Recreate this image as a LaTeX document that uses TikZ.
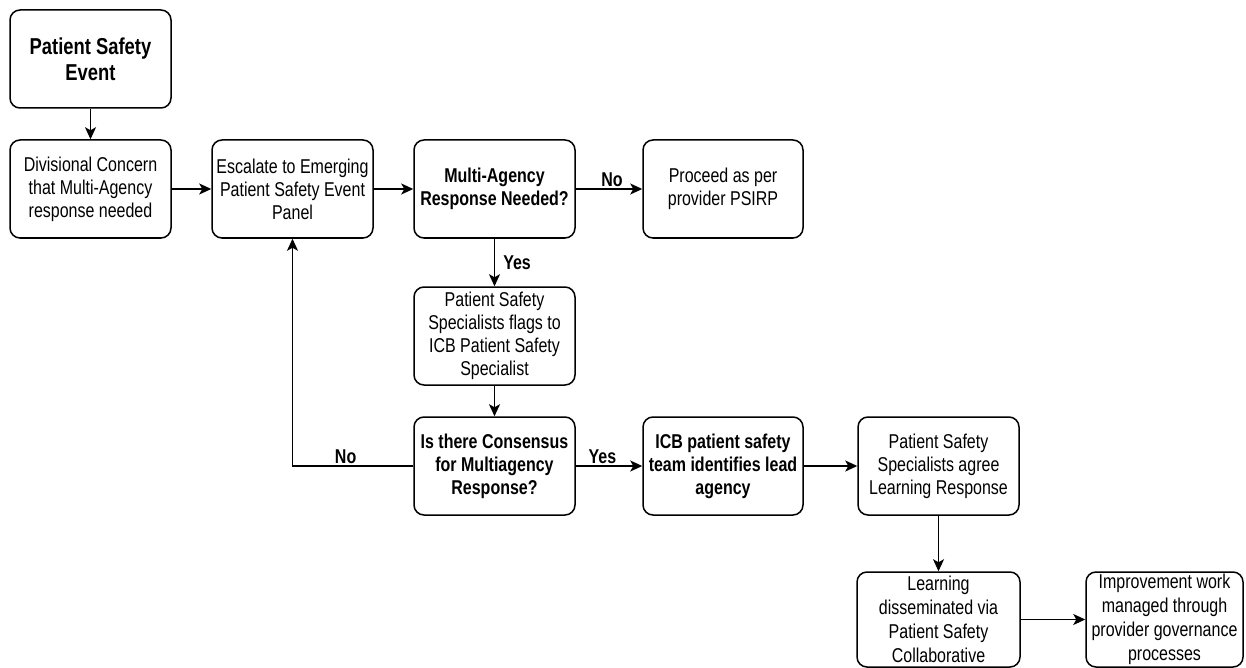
\documentclass[tikz,border=0pt]{standalone}
\usepackage{fontspec}
\setmainfont{Liberation Sans}[FakeStretch=0.8]
\usetikzlibrary{arrows.meta}
\tikzset{
  box/.style={draw=black, line width=1.5pt, rounded corners=10pt, align=center,
    minimum width=161pt, minimum height=98pt, inner sep=2pt,
    font=\fontsize{20}{23}\selectfont},
  boldbox/.style={box, font=\fontsize{20}{23}\selectfont\bfseries},
  titlebox/.style={box, font=\fontsize{23}{26}\selectfont\bfseries},
  arr/.style={line width=1.5pt, -{Stealth[length=12pt,width=11pt,inset=3pt]}},
  lbl/.style={font=\fontsize{20}{23}\selectfont\bfseries, inner sep=2pt}
}
\begin{document}
\begin{tikzpicture}[x=1pt,y=-1pt]
\useasboundingbox (0,0) rectangle (1246,668);
\node[titlebox] (pse) at (90.5,59) {Patient Safety\\Event};
\node[box] (div) at (90.5,189) {Divisional Concern\\that Multi-Agency\\response needed};
\node[box] (esc) at (292.5,189) {Escalate to Emerging\\Patient Safety Event\\Panel};
\node[boldbox] (multi) at (494.5,189) {Multi-Agency\\Response Needed?};
\node[box, minimum width=160pt] (proc) at (723,189) {Proceed as per\\provider PSIRP};
\node[box] (flags) at (494.5,336) {Patient Safety\\Specialists flags to\\ICB Patient Safety\\Specialist};
\node[boldbox] (cons) at (494.5,466) {Is there Consensus\\for Multiagency\\Response?};
\node[boldbox, minimum width=160pt] (icb) at (723,466) {ICB patient safety\\team identifies lead\\agency};
\node[box] (agree) at (938.5,466) {Patient Safety\\Specialists agree\\Learning Response};
\node[box, minimum height=95pt, minimum width=163pt, font=\fontsize{20}{24}\selectfont] (learn) at (938.5,619.5) {Learning\\disseminated via\\Patient Safety\\Collaborative};
\node[box, minimum height=95pt, minimum width=157pt, font=\fontsize{20}{24}\selectfont] (impr) at (1164.5,619.5) {Improvement work\\managed through\\provider governance\\processes};

\draw[arr] (pse) -- (div);
\draw[arr] (div) -- (esc);
\draw[arr] (esc) -- (multi);
\draw[arr] (multi) -- node[lbl, above, pos=0.5, xshift=3pt] {No} (proc);
\draw[arr] (multi) -- node[lbl, right, pos=0.5, xshift=6pt] {Yes} (flags);
\draw[arr] (flags) -- (cons);
\draw[arr] (cons.west) -| node[lbl, above, pos=0.28] {No} (esc.south);
\draw[arr] (cons) -- node[lbl, above, pos=0.4] {Yes} (icb);
\draw[arr] (icb) -- (agree);
\draw[arr] (agree) -- (learn);
\draw[arr] (learn) -- (impr);
\end{tikzpicture}
\end{document}
